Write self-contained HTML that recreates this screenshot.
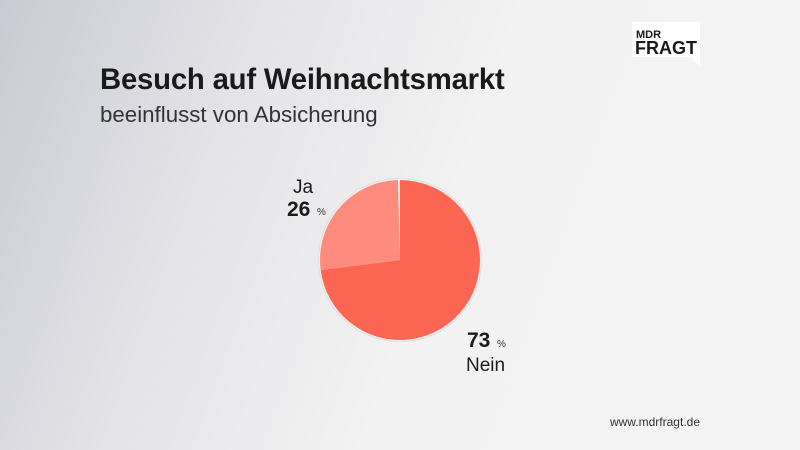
<!DOCTYPE html>
<html><head><meta charset="utf-8"><style>
body{margin:0;width:800px;height:450px;overflow:hidden;font-family:"Liberation Sans",sans-serif;background:linear-gradient(110deg,#c9cad3 0%,#e4e4e8 28%,#f2f2f2 55%,#f4f4f4 100%);position:relative;color:#1a1a1a}
.t{position:absolute;white-space:nowrap}
</style></head><body>
<div class="t" style="left:100px;top:63px;font-size:29.3px;font-weight:bold;letter-spacing:-0.2px">Besuch auf Weihnachtsmarkt</div>
<div class="t" style="left:100px;top:102px;font-size:22.3px;color:#333">beeinflusst von Absicherung</div>
<svg style="position:absolute;left:0;top:0" width="800" height="450">
<polygon points="632,22 700,22 700,66 690,57 632,57" fill="#fff"/>
<text x="636" y="38" font-family="Liberation Sans" font-weight="bold" font-size="11" fill="#1a1a1a">MDR</text>
<text x="635" y="54" font-family="Liberation Sans" font-weight="bold" font-size="18" fill="#1a1a1a">FRAGT</text>
<circle cx="400" cy="260" r="81.5" fill="#f7f7f7" stroke="#e4e4e4" stroke-width="1.5"/>
<path d="M400,260 L400,180 A80,80 0 1 1 320.6,270 Z" fill="#fe6654"/>
<path d="M400,260 L320.6,270 A80,80 0 0 1 397.9,180 Z" fill="#fd8c7f"/>
<text x="293" y="193" font-family="Liberation Sans" font-size="19" fill="#1a1a1a">Ja</text>
<text x="287" y="216" font-family="Liberation Sans" font-weight="bold" font-size="21" fill="#1a1a1a">26</text>
<text x="317" y="215" font-family="Liberation Sans" font-size="10" fill="#333">%</text>
<text x="467" y="347" font-family="Liberation Sans" font-weight="bold" font-size="21" fill="#1a1a1a">73</text>
<text x="497" y="347" font-family="Liberation Sans" font-size="10" fill="#333">%</text>
<text x="466" y="371" font-family="Liberation Sans" font-size="19" fill="#1a1a1a">Nein</text>
<text x="700" y="426" text-anchor="end" font-family="Liberation Sans" font-size="12" fill="#333">www.mdrfragt.de</text>
</svg>
</body></html>
